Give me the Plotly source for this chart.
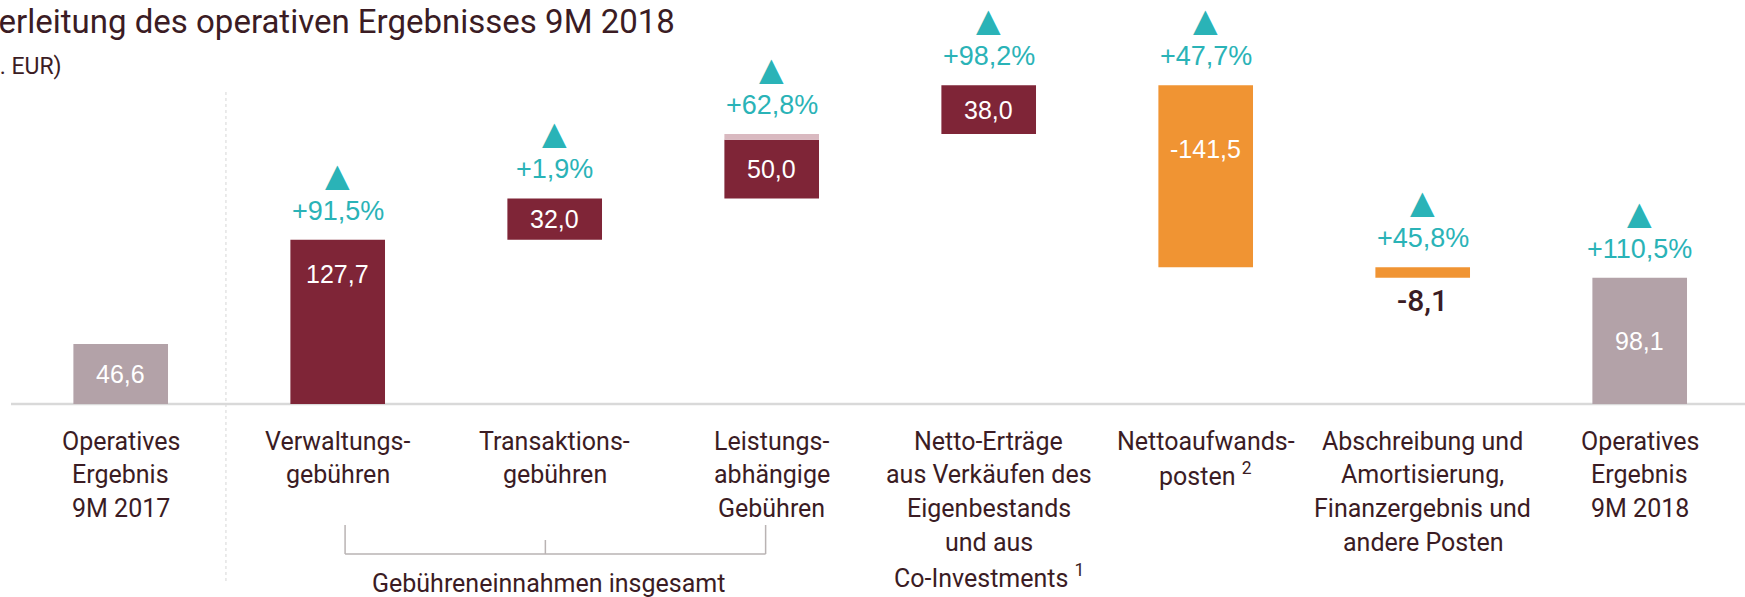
import plotly.graph_objects as go

# ---------------- data ----------------
category_lines = [
    ["Operatives", "Ergebnis", "9M 2017"],
    ["Verwaltungs-", "gebühren"],
    ["Transaktions-", "gebühren"],
    ["Leistungs-", "abhängige", "Gebühren"],
    ["Netto-Erträge", "aus Verkäufen des", "Eigenbestands", "und aus", "Co-Investments <sup>1</sup>"],
    ["Nettoaufwands-", "posten <sup>2</sup>"],
    ["Abschreibung und", "Amortisierung,", "Finanzergebnis und", "andere Posten"],
    ["Operatives", "Ergebnis", "9M 2018"],
]
values = [46.6, 127.7, 32.0, 50.0, 38.0, -141.5, -8.1, 98.1]
measures = ["reference", "relative", "relative", "relative", "relative", "relative", "relative", "total"]
changes_pct = [None, 91.5, 1.9, 62.8, 98.2, 47.7, 45.8, 110.5]
perf_fee_highlight = 4.4   # light top part of the "Leistungsabhängige Gebühren" bar
group_label = "Gebühreneinnahmen insgesamt"
title_text = "Herleitung des operativen Ergebnisses 9M 2018"
subtitle_text = "(Mio. EUR)"

# ---------------- styles ----------------
C_GREY = "#b3a2a8"
C_RED = "#7f2537"
C_ORANGE = "#f09433"
C_PINK = "#d9b9c0"
C_TEAL = "#2ab3b7"
C_TEXT = "#3b1c24"
FONT = "Roboto"
NUM_FONT = "Liberation Sans"

W, H = 1745, 597
PX_PER_UNIT = 1.287
BASE_PX = 404
Y_MAX = BASE_PX / PX_PER_UNIT
Y_MIN = -(H - BASE_PX) / PX_PER_UNIT
STEP_PX = 217.0
FIRST_PX = 120.7
X_MIN = -FIRST_PX / STEP_PX
X_MAX = X_MIN + W / STEP_PX
BAR_W = 0.436

# ---------------- waterfall geometry ----------------
bases, heights, colors = [], [], []
running = 0.0
for v, m in zip(values, measures):
    if m in ("reference", "total"):
        bases.append(0.0)
        heights.append(v)
        colors.append(C_GREY)
    else:
        bases.append(running)
        heights.append(v)
        colors.append(C_RED if v > 0 else C_ORANGE)
        running += v

x = list(range(len(values)))
main_heights = list(heights)
main_heights[3] = heights[3] - perf_fee_highlight

fig = go.Figure()
fig.add_trace(go.Bar(x=x, y=main_heights, base=bases, width=BAR_W,
                     marker=dict(color=colors, line=dict(width=0)),
                     hoverinfo="skip", showlegend=False))
fig.add_trace(go.Bar(x=[3], y=[perf_fee_highlight], base=[bases[3] + main_heights[3]], width=BAR_W,
                     marker=dict(color=C_PINK, line=dict(width=0)),
                     hoverinfo="skip", showlegend=False))

ann = []
def fmt(v):
    return f"{v:.1f}".replace(".", ",")

label_mode = ["mid", "top", "mid", "mid", "mid", "top", "below", "mid"]
top_offsets = {1: 34, 5: 64}
for i, (b, h, mode) in enumerate(zip(bases, main_heights, label_mode)):
    lo, hi = min(b, b + h), max(b, b + h)
    if mode == "mid":
        ann.append(dict(x=i, y=(lo + hi) / 2, text=fmt(values[i]), yanchor="middle",
                        font=dict(family=NUM_FONT, size=25, color="white")))
    elif mode == "top":
        ann.append(dict(x=i, y=hi, yshift=-top_offsets[i], text=fmt(values[i]), yanchor="middle",
                        font=dict(family=NUM_FONT, size=25, color="white")))
    else:
        ann.append(dict(x=i, y=lo, yshift=-23, text=fmt(values[i]), yanchor="middle",
                        font=dict(family=FONT, size=30, weight=500, color=C_TEXT)))

for i, p in enumerate(changes_pct):
    if p is None:
        continue
    top = max(bases[i], bases[i] + heights[i])
    ann.append(dict(x=i, y=top, yshift=29, text=f"+{fmt(p)}%", yanchor="middle",
                    font=dict(family=NUM_FONT, size=27, color=C_TEAL)))
    ann.append(dict(x=i, y=top, yshift=65, text="▲", yanchor="middle",
                    font=dict(family="DejaVu Sans", size=32, color=C_TEAL)))

for i, lines in enumerate(category_lines):
    for k, line in enumerate(lines):
        ann.append(dict(x=i, y=0, yshift=-(37 + k * 33.8), text=line, yanchor="middle",
                        font=dict(family=FONT, size=25, color=C_TEXT)))

ann.append(dict(x=1.97, y=0, yshift=-179, text=group_label, yanchor="middle",
                font=dict(family=FONT, size=25, color=C_TEXT)))

# title / subtitle (left part clipped by the page edge as in the original)
ann.append(dict(xref="paper", yref="paper", x=-27 / W, y=1 - 22 / H, xanchor="left", yanchor="middle",
                text=title_text, font=dict(family=FONT, size=33, color=C_TEXT)))
ann.append(dict(xref="paper", yref="paper", x=-49 / W, y=1 - 67 / H, xanchor="left", yanchor="middle",
                text=subtitle_text, font=dict(family=FONT, size=23, color=C_TEXT)))

for a in ann:
    a.setdefault("xref", "x")
    a.setdefault("yref", "y")
    a.setdefault("showarrow", False)

shapes = []
shapes.append(dict(type="line", xref="x", yref="y", x0=X_MIN + 11 / STEP_PX, x1=X_MAX, y0=0, y1=0,
                   line=dict(color="#d9d9d9", width=2.5), layer="below"))
shapes.append(dict(type="line", xref="x", yref="paper", x0=0.485, x1=0.485,
                   y0=16 / H, y1=1 - 89 / H, line=dict(color="#d6d6d6", width=1, dash="dot"), layer="below"))
br_y = -150 / PX_PER_UNIT
br_top = -121 / PX_PER_UNIT
br_mid = -136 / PX_PER_UNIT
bx0, bxm, bx1 = 1.034, 1.957, 2.972
bcol = dict(color="#b9b3b3", width=1.5)
shapes.append(dict(type="line", xref="x", yref="y", x0=bx0, x1=bx1, y0=br_y, y1=br_y, line=bcol))
shapes.append(dict(type="line", xref="x", yref="y", x0=bx0, x1=bx0, y0=br_y, y1=br_top, line=bcol))
shapes.append(dict(type="line", xref="x", yref="y", x0=bx1, x1=bx1, y0=br_y, y1=br_top, line=bcol))
shapes.append(dict(type="line", xref="x", yref="y", x0=bxm, x1=bxm, y0=br_y, y1=br_mid, line=bcol))

fig.update_layout(
    width=W, height=H,
    margin=dict(l=0, r=0, t=0, b=0),
    paper_bgcolor="white", plot_bgcolor="white",
    barmode="overlay",
    xaxis=dict(range=[X_MIN, X_MAX], visible=False, fixedrange=True),
    yaxis=dict(range=[Y_MIN, Y_MAX], visible=False, fixedrange=True),
    annotations=ann, shapes=shapes,
    showlegend=False,
)
fig.write_html("out.html", config={"displayModeBar": False},
               post_script="document.body.style.margin='0';document.body.style.overflow='hidden';")
